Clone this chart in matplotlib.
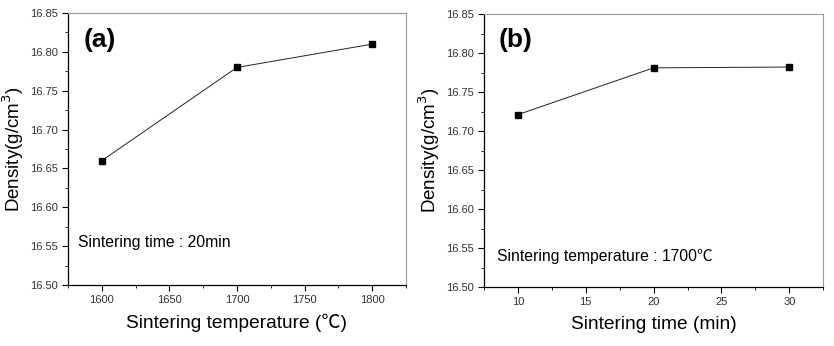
import matplotlib.pyplot as plt
from matplotlib.ticker import MultipleLocator

plt.rcParams['font.family'] = ['Liberation Sans', 'Noto Sans CJK KR', 'DejaVu Sans']

temp = [1600, 1700, 1800]
density_temp = [16.66, 16.78, 16.81]

time_min = [10, 20, 30]
density_time = [16.721, 16.781, 16.782]

fig = plt.figure(figsize=(8.34, 3.46), dpi=100)
ax1 = fig.add_axes([0.0815, 0.1763, 0.4053, 0.786])
ax2 = fig.add_axes([0.5803, 0.1705, 0.4068, 0.789])


def style(ax, xmaj, xmin):
    ax.set_ylim(16.50, 16.85)
    ax.yaxis.set_major_locator(MultipleLocator(0.05))
    ax.yaxis.set_minor_locator(MultipleLocator(0.025))
    ax.xaxis.set_major_locator(MultipleLocator(xmaj))
    ax.xaxis.set_minor_locator(MultipleLocator(xmin))
    ax.yaxis.set_major_formatter(plt.FormatStrFormatter('%.2f'))
    ax.tick_params(which='major', direction='out', length=4, width=0.8,
                   labelsize=8, labelcolor='#333333', top=False, right=False)
    ax.tick_params(which='minor', direction='out', length=2, width=0.6,
                   top=False, right=False)
    for s in ['top', 'right']:
        ax.spines[s].set_color('#999999')
        ax.spines[s].set_linewidth(0.8)
    for s in ['left', 'bottom']:
        ax.spines[s].set_linewidth(0.9)
    ax.set_ylabel('Density(g/cm$^3$)', fontsize=13.5, labelpad=3)


ax1.plot(temp, density_temp, color='#222222', lw=0.7, marker='s',
         markersize=5, markerfacecolor='black', markeredgecolor='black')
ax1.set_xlim(1575, 1825)
style(ax1, 50, 25)
ax1.set_xlabel('Sintering temperature (\u2103)', fontsize=13.75, labelpad=6)
ax1.text(0.045, 0.90, '(a)', transform=ax1.transAxes, fontsize=19,
         fontweight='bold', va='center', ha='left')
ax1.text(0.03, 0.158, 'Sintering time : 20min', transform=ax1.transAxes,
         fontsize=11.3, va='center', ha='left')

ax2.plot(time_min, density_time, color='#222222', lw=0.7, marker='s',
         markersize=5, markerfacecolor='black', markeredgecolor='black')
ax2.set_xlim(7.5, 32.5)
style(ax2, 5, 2.5)
ax2.set_xlabel('Sintering time (min)', fontsize=13.75, labelpad=6)
ax2.text(0.044, 0.905, '(b)', transform=ax2.transAxes, fontsize=19,
         fontweight='bold', va='center', ha='left')
ax2.text(0.037, 0.114, 'Sintering temperature : 1700\u2103', transform=ax2.transAxes,
         fontsize=11.3, va='center', ha='left')

fig.savefig('out.png', dpi=100)
